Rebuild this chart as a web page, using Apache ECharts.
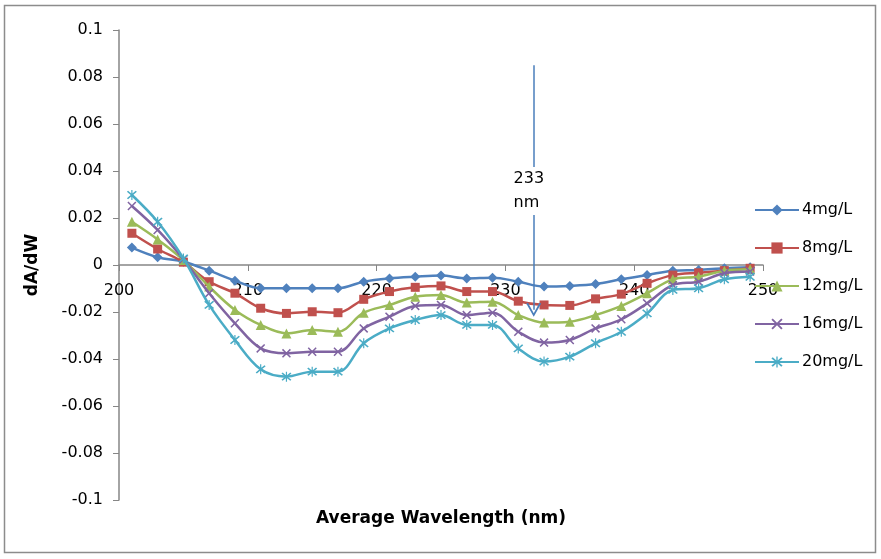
<!DOCTYPE html>
<html>
<head>
<meta charset="utf-8">
<script src="https://cdn.jsdelivr.net/npm/echarts@6/dist/echarts.min.js"></script>
<style>
html,body{margin:0;padding:0;background:#fff;}
#chart{width:881px;height:559px;}
</style>
</head>
<body>
<div id="chart"></div>
<script>
const wavelengths = [201,203,205,207,209,211,213,215,217,219,221,223,225,227,229,231,233,235,237,239,241,243,245,247,249];
const s4mg = [0.0074,0.0033,0.0014,-0.0024,-0.0067,-0.0099,-0.0099,-0.0099,-0.0099,-0.0071,-0.0057,-0.005,-0.0045,-0.0057,-0.0054,-0.0071,-0.0092,-0.0089,-0.0081,-0.0061,-0.0043,-0.0024,-0.0021,-0.0014,-0.001];
const s8mg = [0.0135,0.0068,0.0012,-0.0071,-0.012,-0.0184,-0.0206,-0.0199,-0.0203,-0.0146,-0.0113,-0.0095,-0.0089,-0.0113,-0.0113,-0.0154,-0.017,-0.0172,-0.0144,-0.0124,-0.0078,-0.0043,-0.0033,-0.0024,-0.0014];
const s12mg = [0.0184,0.0109,0.0021,-0.0092,-0.0191,-0.0255,-0.0291,-0.0277,-0.0284,-0.0203,-0.017,-0.0135,-0.0128,-0.016,-0.0156,-0.0213,-0.0245,-0.0241,-0.0213,-0.0174,-0.012,-0.0061,-0.005,-0.0024,-0.0018];
const s16mg = [0.0251,0.0149,0.0024,-0.012,-0.0248,-0.0355,-0.0376,-0.0369,-0.0369,-0.027,-0.022,-0.0174,-0.017,-0.0213,-0.0203,-0.0284,-0.033,-0.0319,-0.027,-0.0231,-0.0163,-0.0085,-0.0071,-0.0035,-0.0028];
const s20mg = [0.0298,0.0184,0.0028,-0.017,-0.0319,-0.0444,-0.0475,-0.0454,-0.0454,-0.0333,-0.027,-0.0234,-0.0213,-0.0255,-0.0255,-0.0355,-0.0411,-0.039,-0.0333,-0.0284,-0.0206,-0.0106,-0.0099,-0.0061,-0.005];
const seriesNames = ['4mg/L','8mg/L','12mg/L','16mg/L','20mg/L'];
const annotation = {x: 232.2, top: 0.085, tip: -0.019, labelX: 230.4, labelY: 0.0315, text: '233\nnm'};

const colors = ['#4F81BD','#C0504D','#9BBB59','#8064A2','#4BACC6'];
const xSym = 'path://M0,1.2L1.2,0L5,3.8L8.8,0L10,1.2L6.2,5L10,8.8L8.8,10L5,6.2L1.2,10L0,8.8L3.8,5Z';
const starSym = 'path://M0,1.2L1.2,0L5,3.8L8.8,0L10,1.2L6.2,5L10,8.8L8.8,10L5,6.2L1.2,10L0,8.8L3.8,5Z M4.4,-1H5.6V11H4.4Z';
const symbols = ['diamond','rect','triangle',xSym,starSym];
const symSizes = [10,9,10,9,10];
const chevron = 'path://M0,10L5,0L10,10L8.8,10.6L5,2.6L1.2,10.6Z';

const allData = [s4mg,s8mg,s12mg,s16mg,s20mg];
const font = 'DejaVu Sans';

// plot area: grid height 470 with y range symmetric about 0 -> zero line is 235px above bottom
const gridTop = 30, gridBottom = 59, plotH = 559 - gridTop - gridBottom;

const series = allData.map((vals, i) => ({
  name: seriesNames[i],
  type: 'line',
  data: wavelengths.map((w, j) => [w, vals[j]]),
  smooth: 0.35,
  symbol: symbols[i],
  symbolSize: symSizes[i],
  showAllSymbol: true,
  lineStyle: {width: 2.5, color: colors[i]},
  itemStyle: {color: colors[i], borderWidth: 0},
  emphasis: {disabled: true},
  z: 3 + i
}));
series[0].markLine = {
  silent: true,
  symbol: ['none', chevron],
  symbolSize: [15, 14],
  lineStyle: {color: '#4A7EBB', width: 1.5, type: 'solid'},
  label: {show: false},
  data: [[{coord: [annotation.x, annotation.top]}, {coord: [annotation.x, annotation.tip]}]],
  animation: false
};
series[4].markPoint = {
  silent: true,
  symbol: 'rect',
  symbolSize: 1,
  itemStyle: {color: 'rgba(0,0,0,0)'},
  label: {
    show: true, position: 'inside', formatter: annotation.text,
    color: '#000', fontFamily: font, fontSize: 16, lineHeight: 24,
    align: 'left', verticalAlign: 'middle',
    backgroundColor: '#fff', padding: [0, 3, 0, 3]
  },
  data: [{coord: [annotation.labelX, annotation.labelY]}],
  animation: false
};

const chart = echarts.init(document.getElementById('chart'), null, {renderer: 'canvas'});
chart.setOption({
  animation: false,
  backgroundColor: '#fff',
  color: colors,
  grid: {left: 119, right: 118, top: gridTop, bottom: gridBottom, containLabel: false, outerBoundsMode: 'none'},
  xAxis: {
    type: 'value', min: 200, max: 250, interval: 10,
    position: 'bottom', offset: -plotH / 2,
    name: 'Average Wavelength (nm)', nameLocation: 'middle', nameGap: 245,
    nameTextStyle: {fontFamily: font, fontWeight: 'bold', fontSize: 17, color: '#000'},
    axisLine: {onZero: false, lineStyle: {color: '#868686', width: 1.5}},
    axisTick: {show: true, inside: false, length: 6, lineStyle: {color: '#868686'}},
    axisLabel: {color: '#000', fontFamily: font, fontSize: 16, margin: 18},
    splitLine: {show: false}
  },
  yAxis: {
    type: 'value', min: -0.1, max: 0.1, interval: 0.02,
    name: 'dA/dW', nameLocation: 'middle', nameGap: 78, nameRotate: 90,
    nameTextStyle: {fontFamily: font, fontWeight: 'bold', fontSize: 17, color: '#000'},
    axisLine: {show: true, onZero: false, lineStyle: {color: '#868686', width: 1.5}},
    axisTick: {show: true, length: 6, lineStyle: {color: '#868686'}},
    axisLabel: {color: '#000', fontFamily: font, fontSize: 16, margin: 16,
      formatter: v => { const r = Math.round(v * 100) / 100; return (r === 0 ? 0 : r).toString(); }},
    splitLine: {show: false}
  },
  legend: {
    orient: 'vertical', left: 749, top: 197,
    itemWidth: 44, itemHeight: 14, itemGap: 22,
    data: seriesNames,
    textStyle: {fontFamily: font, fontSize: 16, color: '#000', lineHeight: 14, padding: [0,0,0,-2]}
  },
  graphic: [{
    type: 'rect', silent: true, z: -10,
    shape: {x: 4.5, y: 5.5, width: 871, height: 547},
    style: {fill: 'none', stroke: '#8c8c8c', lineWidth: 1.5}
  }],
  series: series
});
</script>
</body>
</html>
